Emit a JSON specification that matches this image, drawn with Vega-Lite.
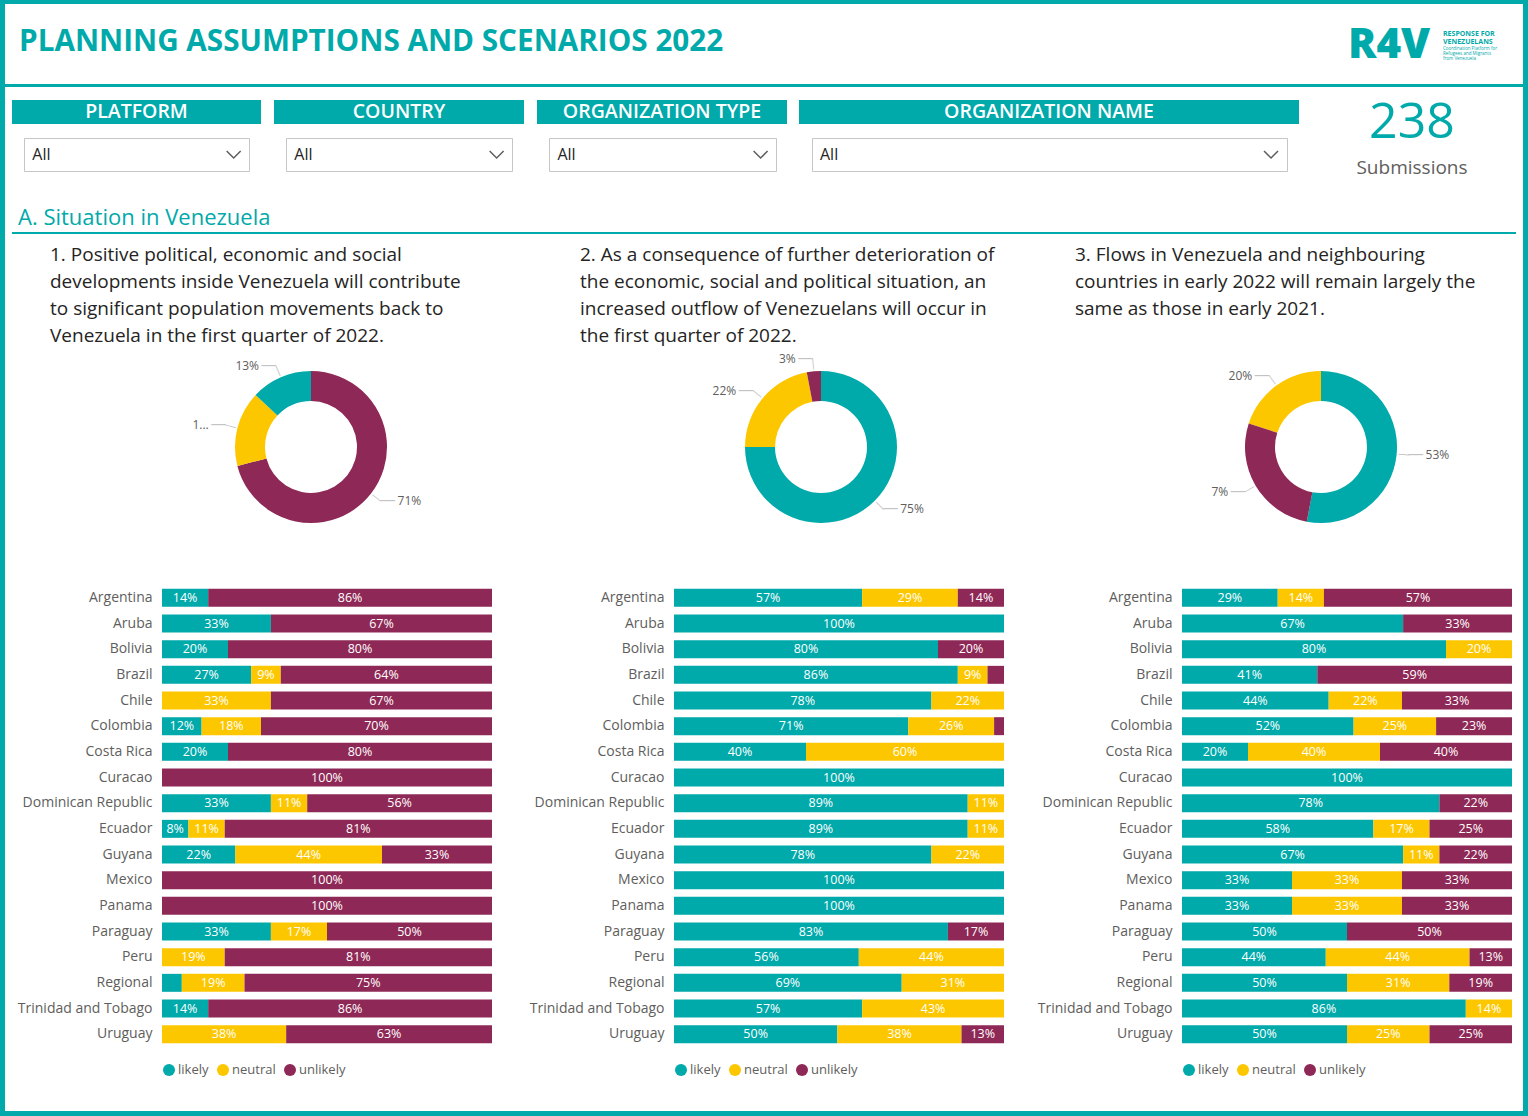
{
  "$schema": "https://vega.github.io/schema/vega-lite/v6.json",
  "padding": 0,
  "background": "white",
  "config": {
    "font": "Open Sans",
    "view": {"stroke": null},
    "concat": {"spacing": 0},
    "title": {"font": "Open Sans", "fontWeight": "normal", "anchor": "start"},
    "axis": {"labelFont": "Open Sans"},
    "legend": {"labelFont": "Open Sans"}
  },
  "datasets": {
    "slicers": [
      {"name": "PLATFORM"}, {"name": "COUNTRY"}, {"name": "ORGANIZATION TYPE"}, {"name": "ORGANIZATION NAME"}
    ],
    "dropdown": [
      {"pos": "left", "txt": "All"}, {"pos": "right", "txt": "chevron"}
    ],
    "donut": [
      {"q": 1, "cat": "unlikely", "value": 0.71, "label": "71%"},
      {"q": 1, "cat": "neutral", "value": 0.16, "label": "1..."},
      {"q": 1, "cat": "likely", "value": 0.13, "label": "13%"},
      {"q": 2, "cat": "likely", "value": 0.75, "label": "75%"},
      {"q": 2, "cat": "neutral", "value": 0.22, "label": "22%"},
      {"q": 2, "cat": "unlikely", "value": 0.03, "label": "3%"},
      {"q": 3, "cat": "likely", "value": 0.53, "label": "53%"},
      {"q": 3, "cat": "neutral", "value": 0.20, "label": "20%"},
      {"q": 3, "cat": "unlikely", "value": 0.27, "label": "7%"}
    ],
    "bars": [
      {"q": 1, "country": "Argentina", "cat": "likely", "value": 0.14},
      {"q": 1, "country": "Argentina", "cat": "unlikely", "value": 0.86},
      {"q": 1, "country": "Aruba", "cat": "likely", "value": 0.33},
      {"q": 1, "country": "Aruba", "cat": "unlikely", "value": 0.67},
      {"q": 1, "country": "Bolivia", "cat": "likely", "value": 0.20},
      {"q": 1, "country": "Bolivia", "cat": "unlikely", "value": 0.80},
      {"q": 1, "country": "Brazil", "cat": "likely", "value": 0.27},
      {"q": 1, "country": "Brazil", "cat": "neutral", "value": 0.09},
      {"q": 1, "country": "Brazil", "cat": "unlikely", "value": 0.64},
      {"q": 1, "country": "Chile", "cat": "neutral", "value": 0.33},
      {"q": 1, "country": "Chile", "cat": "unlikely", "value": 0.67},
      {"q": 1, "country": "Colombia", "cat": "likely", "value": 0.12},
      {"q": 1, "country": "Colombia", "cat": "neutral", "value": 0.18},
      {"q": 1, "country": "Colombia", "cat": "unlikely", "value": 0.70},
      {"q": 1, "country": "Costa Rica", "cat": "likely", "value": 0.20},
      {"q": 1, "country": "Costa Rica", "cat": "unlikely", "value": 0.80},
      {"q": 1, "country": "Curacao", "cat": "unlikely", "value": 1.00},
      {"q": 1, "country": "Dominican Republic", "cat": "likely", "value": 0.33},
      {"q": 1, "country": "Dominican Republic", "cat": "neutral", "value": 0.11},
      {"q": 1, "country": "Dominican Republic", "cat": "unlikely", "value": 0.56},
      {"q": 1, "country": "Ecuador", "cat": "likely", "value": 0.08},
      {"q": 1, "country": "Ecuador", "cat": "neutral", "value": 0.11},
      {"q": 1, "country": "Ecuador", "cat": "unlikely", "value": 0.81},
      {"q": 1, "country": "Guyana", "cat": "likely", "value": 0.22},
      {"q": 1, "country": "Guyana", "cat": "neutral", "value": 0.44},
      {"q": 1, "country": "Guyana", "cat": "unlikely", "value": 0.33},
      {"q": 1, "country": "Mexico", "cat": "unlikely", "value": 1.00},
      {"q": 1, "country": "Panama", "cat": "unlikely", "value": 1.00},
      {"q": 1, "country": "Paraguay", "cat": "likely", "value": 0.33},
      {"q": 1, "country": "Paraguay", "cat": "neutral", "value": 0.17},
      {"q": 1, "country": "Paraguay", "cat": "unlikely", "value": 0.50},
      {"q": 1, "country": "Peru", "cat": "neutral", "value": 0.19},
      {"q": 1, "country": "Peru", "cat": "unlikely", "value": 0.81},
      {"q": 1, "country": "Regional", "cat": "likely", "value": 0.06},
      {"q": 1, "country": "Regional", "cat": "neutral", "value": 0.19},
      {"q": 1, "country": "Regional", "cat": "unlikely", "value": 0.75},
      {"q": 1, "country": "Trinidad and Tobago", "cat": "likely", "value": 0.14},
      {"q": 1, "country": "Trinidad and Tobago", "cat": "unlikely", "value": 0.86},
      {"q": 1, "country": "Uruguay", "cat": "neutral", "value": 0.38},
      {"q": 1, "country": "Uruguay", "cat": "unlikely", "value": 0.63},
      {"q": 2, "country": "Argentina", "cat": "likely", "value": 0.57},
      {"q": 2, "country": "Argentina", "cat": "neutral", "value": 0.29},
      {"q": 2, "country": "Argentina", "cat": "unlikely", "value": 0.14},
      {"q": 2, "country": "Aruba", "cat": "likely", "value": 1.00},
      {"q": 2, "country": "Bolivia", "cat": "likely", "value": 0.80},
      {"q": 2, "country": "Bolivia", "cat": "unlikely", "value": 0.20},
      {"q": 2, "country": "Brazil", "cat": "likely", "value": 0.86},
      {"q": 2, "country": "Brazil", "cat": "neutral", "value": 0.09},
      {"q": 2, "country": "Brazil", "cat": "unlikely", "value": 0.05},
      {"q": 2, "country": "Chile", "cat": "likely", "value": 0.78},
      {"q": 2, "country": "Chile", "cat": "neutral", "value": 0.22},
      {"q": 2, "country": "Colombia", "cat": "likely", "value": 0.71},
      {"q": 2, "country": "Colombia", "cat": "neutral", "value": 0.26},
      {"q": 2, "country": "Colombia", "cat": "unlikely", "value": 0.03},
      {"q": 2, "country": "Costa Rica", "cat": "likely", "value": 0.40},
      {"q": 2, "country": "Costa Rica", "cat": "neutral", "value": 0.60},
      {"q": 2, "country": "Curacao", "cat": "likely", "value": 1.00},
      {"q": 2, "country": "Dominican Republic", "cat": "likely", "value": 0.89},
      {"q": 2, "country": "Dominican Republic", "cat": "neutral", "value": 0.11},
      {"q": 2, "country": "Ecuador", "cat": "likely", "value": 0.89},
      {"q": 2, "country": "Ecuador", "cat": "neutral", "value": 0.11},
      {"q": 2, "country": "Guyana", "cat": "likely", "value": 0.78},
      {"q": 2, "country": "Guyana", "cat": "neutral", "value": 0.22},
      {"q": 2, "country": "Mexico", "cat": "likely", "value": 1.00},
      {"q": 2, "country": "Panama", "cat": "likely", "value": 1.00},
      {"q": 2, "country": "Paraguay", "cat": "likely", "value": 0.83},
      {"q": 2, "country": "Paraguay", "cat": "unlikely", "value": 0.17},
      {"q": 2, "country": "Peru", "cat": "likely", "value": 0.56},
      {"q": 2, "country": "Peru", "cat": "neutral", "value": 0.44},
      {"q": 2, "country": "Regional", "cat": "likely", "value": 0.69},
      {"q": 2, "country": "Regional", "cat": "neutral", "value": 0.31},
      {"q": 2, "country": "Trinidad and Tobago", "cat": "likely", "value": 0.57},
      {"q": 2, "country": "Trinidad and Tobago", "cat": "neutral", "value": 0.43},
      {"q": 2, "country": "Uruguay", "cat": "likely", "value": 0.50},
      {"q": 2, "country": "Uruguay", "cat": "neutral", "value": 0.38},
      {"q": 2, "country": "Uruguay", "cat": "unlikely", "value": 0.13},
      {"q": 3, "country": "Argentina", "cat": "likely", "value": 0.29},
      {"q": 3, "country": "Argentina", "cat": "neutral", "value": 0.14},
      {"q": 3, "country": "Argentina", "cat": "unlikely", "value": 0.57},
      {"q": 3, "country": "Aruba", "cat": "likely", "value": 0.67},
      {"q": 3, "country": "Aruba", "cat": "unlikely", "value": 0.33},
      {"q": 3, "country": "Bolivia", "cat": "likely", "value": 0.80},
      {"q": 3, "country": "Bolivia", "cat": "neutral", "value": 0.20},
      {"q": 3, "country": "Brazil", "cat": "likely", "value": 0.41},
      {"q": 3, "country": "Brazil", "cat": "unlikely", "value": 0.59},
      {"q": 3, "country": "Chile", "cat": "likely", "value": 0.44},
      {"q": 3, "country": "Chile", "cat": "neutral", "value": 0.22},
      {"q": 3, "country": "Chile", "cat": "unlikely", "value": 0.33},
      {"q": 3, "country": "Colombia", "cat": "likely", "value": 0.52},
      {"q": 3, "country": "Colombia", "cat": "neutral", "value": 0.25},
      {"q": 3, "country": "Colombia", "cat": "unlikely", "value": 0.23},
      {"q": 3, "country": "Costa Rica", "cat": "likely", "value": 0.20},
      {"q": 3, "country": "Costa Rica", "cat": "neutral", "value": 0.40},
      {"q": 3, "country": "Costa Rica", "cat": "unlikely", "value": 0.40},
      {"q": 3, "country": "Curacao", "cat": "likely", "value": 1.00},
      {"q": 3, "country": "Dominican Republic", "cat": "likely", "value": 0.78},
      {"q": 3, "country": "Dominican Republic", "cat": "unlikely", "value": 0.22},
      {"q": 3, "country": "Ecuador", "cat": "likely", "value": 0.58},
      {"q": 3, "country": "Ecuador", "cat": "neutral", "value": 0.17},
      {"q": 3, "country": "Ecuador", "cat": "unlikely", "value": 0.25},
      {"q": 3, "country": "Guyana", "cat": "likely", "value": 0.67},
      {"q": 3, "country": "Guyana", "cat": "neutral", "value": 0.11},
      {"q": 3, "country": "Guyana", "cat": "unlikely", "value": 0.22},
      {"q": 3, "country": "Mexico", "cat": "likely", "value": 0.33},
      {"q": 3, "country": "Mexico", "cat": "neutral", "value": 0.33},
      {"q": 3, "country": "Mexico", "cat": "unlikely", "value": 0.33},
      {"q": 3, "country": "Panama", "cat": "likely", "value": 0.33},
      {"q": 3, "country": "Panama", "cat": "neutral", "value": 0.33},
      {"q": 3, "country": "Panama", "cat": "unlikely", "value": 0.33},
      {"q": 3, "country": "Paraguay", "cat": "likely", "value": 0.50},
      {"q": 3, "country": "Paraguay", "cat": "unlikely", "value": 0.50},
      {"q": 3, "country": "Peru", "cat": "likely", "value": 0.44},
      {"q": 3, "country": "Peru", "cat": "neutral", "value": 0.44},
      {"q": 3, "country": "Peru", "cat": "unlikely", "value": 0.13},
      {"q": 3, "country": "Regional", "cat": "likely", "value": 0.50},
      {"q": 3, "country": "Regional", "cat": "neutral", "value": 0.31},
      {"q": 3, "country": "Regional", "cat": "unlikely", "value": 0.19},
      {"q": 3, "country": "Trinidad and Tobago", "cat": "likely", "value": 0.86},
      {"q": 3, "country": "Trinidad and Tobago", "cat": "neutral", "value": 0.14},
      {"q": 3, "country": "Uruguay", "cat": "likely", "value": 0.50},
      {"q": 3, "country": "Uruguay", "cat": "neutral", "value": 0.25},
      {"q": 3, "country": "Uruguay", "cat": "unlikely", "value": 0.25}
    ]
  },
  "spacing": 0,
  "hconcat": [
    {"width": 5, "height": 1116, "view": {"fill": "#00A9AA"}, "data": {"values": [{}]}, "mark": {"type": "text", "text": "", "fontSize": 0}},
    {
      "vconcat": [
        {"width": 1518, "height": 4, "view": {"fill": "#00A9AA"}, "data": {"values": [{}]}, "mark": {"type": "text", "text": "", "fontSize": 0}},
        {"width": 1, "height": 20, "data": {"values": [{}]}, "mark": {"type": "text", "text": "", "fontSize": 0}},
        {
          "hconcat": [
            {"width": 1330, "height": 3, "view": {"fill": "#00A9AA"},
             "title": {"text": "PLANNING ASSUMPTIONS AND SCENARIOS 2022", "fontSize": 29.7, "fontWeight": "bold", "color": "#00A9AA", "dx": 14, "offset": 26},
             "data": {"values": [{}]}, "mark": {"type": "text", "text": "", "fontSize": 0}},
            {"width": 100, "height": 3, "view": {"fill": "#00A9AA"},
             "title": {"text": "R4V", "fontSize": 42, "fontWeight": 800, "color": "#00A9AA", "dx": 13, "offset": 17},
             "data": {"values": [{}]}, "mark": {"type": "text", "text": "", "fontSize": 0}},
            {"width": 88, "height": 3, "view": {"fill": "#00A9AA"},
             "title": {"text": ["RESPONSE FOR", "VENEZUELANS"], "subtitle": ["Coordination Platform for", "Refugees and Migrants", "from Venezuela"], "fontSize": 7, "lineHeight": 8, "fontWeight": "bold", "color": "#00A9AA", "subtitleFontSize": 4.5, "subtitleLineHeight": 5, "subtitleColor": "#00A9AA", "subtitlePadding": 1, "dx": 8, "offset": 24},
             "data": {"values": [{}]}, "mark": {"type": "text", "text": "", "fontSize": 0}}
          ]
        },
        {"width": 1, "height": 11, "data": {"values": [{}]}, "mark": {"type": "text", "text": "", "fontSize": 0}},
        {
          "hconcat": [
            {"width": 7, "height": 1, "data": {"values": [{}]}, "mark": {"type": "text", "text": "", "fontSize": 0}},
            {"spacing": 13, "vconcat": [
              {"width": 249, "height": 24, "view": {"fill": "#00A9AA"}, "data": {"name": "slicers"}, "transform": [{"filter": "datum.name === 'PLATFORM'"}],
               "mark": {"type": "text", "color": "white", "fontSize": 19.5, "fontWeight": 600},
               "encoding": {"x": {"field": "name", "type": "nominal", "axis": null}, "y": {"field": "name", "type": "nominal", "axis": null}, "text": {"field": "name"}}},
              {"hconcat": [
                {"width": 11, "height": 1, "data": {"values": [{}]}, "mark": {"type": "text", "text": "", "fontSize": 0}},
                {"width": 225, "height": 33, "view": {"fill": "white", "stroke": "#C8C6C4"}, "data": {"name": "dropdown"},
                 "encoding": {"x": {"field": "pos", "type": "nominal", "axis": null, "scale": {"type": "point", "padding": 0.04}}},
                 "layer": [
                   {"transform": [{"filter": "datum.pos === 'left'"}], "mark": {"type": "text", "align": "left", "fontSize": 16, "color": "#252423"}, "encoding": {"text": {"field": "txt"}}},
                   {"transform": [{"filter": "datum.pos === 'right'"}], "mark": {"type": "point", "shape": "M-1,-0.5L0,0.5L1,-0.5", "filled": false, "size": 196, "stroke": "#605E5C", "strokeWidth": 1.5, "opacity": 1, "xOffset": -7}}
                 ]}
              ]}
            ]},
            {"width": 13, "height": 1, "data": {"values": [{}]}, "mark": {"type": "text", "text": "", "fontSize": 0}},
            {"spacing": 13, "vconcat": [
              {"width": 250, "height": 24, "view": {"fill": "#00A9AA"}, "data": {"name": "slicers"}, "transform": [{"filter": "datum.name === 'COUNTRY'"}],
               "mark": {"type": "text", "color": "white", "fontSize": 19.5, "fontWeight": 600},
               "encoding": {"x": {"field": "name", "type": "nominal", "axis": null}, "y": {"field": "name", "type": "nominal", "axis": null}, "text": {"field": "name"}}},
              {"hconcat": [
                {"width": 11, "height": 1, "data": {"values": [{}]}, "mark": {"type": "text", "text": "", "fontSize": 0}},
                {"width": 226, "height": 33, "view": {"fill": "white", "stroke": "#C8C6C4"}, "data": {"name": "dropdown"},
                 "encoding": {"x": {"field": "pos", "type": "nominal", "axis": null, "scale": {"type": "point", "padding": 0.04}}},
                 "layer": [
                   {"transform": [{"filter": "datum.pos === 'left'"}], "mark": {"type": "text", "align": "left", "fontSize": 16, "color": "#252423"}, "encoding": {"text": {"field": "txt"}}},
                   {"transform": [{"filter": "datum.pos === 'right'"}], "mark": {"type": "point", "shape": "M-1,-0.5L0,0.5L1,-0.5", "filled": false, "size": 196, "stroke": "#605E5C", "strokeWidth": 1.5, "opacity": 1, "xOffset": -7}}
                 ]}
              ]}
            ]},
            {"width": 13, "height": 1, "data": {"values": [{}]}, "mark": {"type": "text", "text": "", "fontSize": 0}},
            {"spacing": 13, "vconcat": [
              {"width": 250, "height": 24, "view": {"fill": "#00A9AA"}, "data": {"name": "slicers"}, "transform": [{"filter": "datum.name === 'ORGANIZATION TYPE'"}],
               "mark": {"type": "text", "color": "white", "fontSize": 19.5, "fontWeight": 600},
               "encoding": {"x": {"field": "name", "type": "nominal", "axis": null}, "y": {"field": "name", "type": "nominal", "axis": null}, "text": {"field": "name"}}},
              {"hconcat": [
                {"width": 11, "height": 1, "data": {"values": [{}]}, "mark": {"type": "text", "text": "", "fontSize": 0}},
                {"width": 227, "height": 33, "view": {"fill": "white", "stroke": "#C8C6C4"}, "data": {"name": "dropdown"},
                 "encoding": {"x": {"field": "pos", "type": "nominal", "axis": null, "scale": {"type": "point", "padding": 0.04}}},
                 "layer": [
                   {"transform": [{"filter": "datum.pos === 'left'"}], "mark": {"type": "text", "align": "left", "fontSize": 16, "color": "#252423"}, "encoding": {"text": {"field": "txt"}}},
                   {"transform": [{"filter": "datum.pos === 'right'"}], "mark": {"type": "point", "shape": "M-1,-0.5L0,0.5L1,-0.5", "filled": false, "size": 196, "stroke": "#605E5C", "strokeWidth": 1.5, "opacity": 1, "xOffset": -7}}
                 ]}
              ]}
            ]},
            {"width": 12, "height": 1, "data": {"values": [{}]}, "mark": {"type": "text", "text": "", "fontSize": 0}},
            {"spacing": 13, "vconcat": [
              {"width": 500, "height": 24, "view": {"fill": "#00A9AA"}, "data": {"name": "slicers"}, "transform": [{"filter": "datum.name === 'ORGANIZATION NAME'"}],
               "mark": {"type": "text", "color": "white", "fontSize": 19.5, "fontWeight": 600},
               "encoding": {"x": {"field": "name", "type": "nominal", "axis": null}, "y": {"field": "name", "type": "nominal", "axis": null}, "text": {"field": "name"}}},
              {"hconcat": [
                {"width": 12, "height": 1, "data": {"values": [{}]}, "mark": {"type": "text", "text": "", "fontSize": 0}},
                {"width": 475, "height": 33, "view": {"fill": "white", "stroke": "#C8C6C4"}, "data": {"name": "dropdown"},
                 "encoding": {"x": {"field": "pos", "type": "nominal", "axis": null, "scale": {"type": "point", "padding": 0.0174}}},
                 "layer": [
                   {"transform": [{"filter": "datum.pos === 'left'"}], "mark": {"type": "text", "align": "left", "fontSize": 16, "color": "#252423"}, "encoding": {"text": {"field": "txt"}}},
                   {"transform": [{"filter": "datum.pos === 'right'"}], "mark": {"type": "point", "shape": "M-1,-0.5L0,0.5L1,-0.5", "filled": false, "size": 196, "stroke": "#605E5C", "strokeWidth": 1.5, "opacity": 1, "xOffset": -8}}
                 ]}
              ]}
            ]},
            {"width": 13, "height": 1, "data": {"values": [{}]}, "mark": {"type": "text", "text": "", "fontSize": 0}},
            {"width": 200, "height": 1,
             "title": {"text": "238", "subtitle": "Submissions", "orient": "bottom", "anchor": "middle", "fontSize": 50, "color": "#00A9AA", "subtitleFontSize": 19, "subtitleColor": "#605E5C", "subtitlePadding": 11, "offset": -3},
             "data": {"values": [{}]}, "mark": {"type": "text", "text": "", "fontSize": 0}}
          ]
        },
        {"width": 1, "height": 29, "data": {"values": [{}]}, "mark": {"type": "text", "text": "", "fontSize": 0}},
        {
          "hconcat": [
            {"width": 7, "height": 1, "data": {"values": [{}]}, "mark": {"type": "text", "text": "", "fontSize": 0}},
            {"width": 1504, "height": 2, "view": {"fill": "#00A9AA"},
             "title": {"text": "A. Situation in Venezuela", "fontSize": 22, "color": "#00A9AA", "dx": 6, "offset": 2},
             "data": {"values": [{}]}, "mark": {"type": "text", "text": "", "fontSize": 0}}
          ]
        },
        {"width": 1, "height": 12, "data": {"values": [{}]}, "mark": {"type": "text", "text": "", "fontSize": 0}},
        {
          "hconcat": [
            {"width": 45, "height": 1, "data": {"values": [{}]}, "mark": {"type": "text", "text": "", "fontSize": 0}},
            {"width": 522, "height": 260,
             "title": {"text": ["1. Positive political, economic and social", "developments inside Venezuela will contribute", "to significant population movements back to", "Venezuela in the first quarter of 2022."], "fontSize": 19, "lineHeight": 27, "color": "#252423", "offset": -29},
             "data": {"name": "donut"},
             "transform": [{"filter": "datum.q === 1"}, {"stack": "value", "groupby": ["q"], "sort": [{"field": "value", "order": "descending"}], "offset": "normalize", "as": ["v0", "v1"]}],
             "layer": [
               {"mark": {"type": "arc", "innerRadius": 46, "outerRadius": 76},
                "encoding": {"theta": {"field": "v0", "type": "quantitative", "stack": null, "scale": {"domain": [0, 1]}}, "theta2": {"field": "v1"},
                  "color": {"field": "cat", "type": "nominal", "legend": null, "scale": {"domain": ["likely", "neutral", "unlikely"], "range": ["#00A9AA", "#FDC700", "#8E2856"]}}}},
               {"transform": [{"fold": ["v0", "v1"], "as": ["end", "pos"]}],
                "mark": {"type": "text", "text": "│", "font": "DejaVu Sans", "fontSize": 9, "radius": 83, "color": "#BDBDBD"},
                "encoding": {"theta": {"field": "pos", "aggregate": "mean", "type": "quantitative", "stack": null}, "angle": {"field": "pos", "aggregate": "mean", "type": "quantitative", "scale": {"domain": [0, 1], "range": [0, 360]}}, "detail": {"field": "cat"}}},
               {"transform": [{"filter": "datum.v0 + datum.v1 < 1"}, {"fold": ["v0", "v1"], "as": ["end", "pos"]}],
                "mark": {"type": "text", "text": "──", "font": "DejaVu Sans", "fontSize": 12, "radius": 88, "align": "left", "color": "#BDBDBD"},
                "encoding": {"theta": {"field": "pos", "aggregate": "mean", "type": "quantitative", "stack": null}, "detail": {"field": "cat"}}},
               {"transform": [{"filter": "datum.v0 + datum.v1 >= 1"}, {"fold": ["v0", "v1"], "as": ["end", "pos"]}],
                "mark": {"type": "text", "text": "──", "font": "DejaVu Sans", "fontSize": 12, "radius": 88, "align": "right", "color": "#BDBDBD"},
                "encoding": {"theta": {"field": "pos", "aggregate": "mean", "type": "quantitative", "stack": null}, "detail": {"field": "cat"}}},
               {"transform": [{"filter": "datum.v0 + datum.v1 < 1"}, {"fold": ["v0", "v1"], "as": ["end", "pos"]}],
                "mark": {"type": "text", "radius": 88, "align": "left", "dx": 17, "fontSize": 12, "color": "#605E5C"},
                "encoding": {"theta": {"field": "pos", "aggregate": "mean", "type": "quantitative", "stack": null}, "detail": {"field": "cat"}, "text": {"field": "label"}}},
               {"transform": [{"filter": "datum.v0 + datum.v1 >= 1"}, {"fold": ["v0", "v1"], "as": ["end", "pos"]}],
                "mark": {"type": "text", "radius": 88, "align": "right", "dx": -17, "fontSize": 12, "color": "#605E5C"},
                "encoding": {"theta": {"field": "pos", "aggregate": "mean", "type": "quantitative", "stack": null}, "detail": {"field": "cat"}, "text": {"field": "label"}}}
             ]},
            {"width": 8, "height": 1, "data": {"values": [{}]}, "mark": {"type": "text", "text": "", "fontSize": 0}},
            {"width": 482, "height": 260,
             "title": {"text": ["2. As a consequence of further deterioration of", "the economic, social and political situation, an", "increased outflow of Venezuelans will occur in", "the first quarter of 2022."], "fontSize": 19, "lineHeight": 27, "color": "#252423", "offset": -29},
             "data": {"name": "donut"},
             "transform": [{"filter": "datum.q === 2"}, {"stack": "value", "groupby": ["q"], "sort": [{"field": "value", "order": "descending"}], "offset": "normalize", "as": ["v0", "v1"]}],
             "layer": [
               {"mark": {"type": "arc", "innerRadius": 46, "outerRadius": 76},
                "encoding": {"theta": {"field": "v0", "type": "quantitative", "stack": null, "scale": {"domain": [0, 1]}}, "theta2": {"field": "v1"},
                  "color": {"field": "cat", "type": "nominal", "legend": null, "scale": {"domain": ["likely", "neutral", "unlikely"], "range": ["#00A9AA", "#FDC700", "#8E2856"]}}}},
               {"transform": [{"fold": ["v0", "v1"], "as": ["end", "pos"]}],
                "mark": {"type": "text", "text": "│", "font": "DejaVu Sans", "fontSize": 9, "radius": 83, "color": "#BDBDBD"},
                "encoding": {"theta": {"field": "pos", "aggregate": "mean", "type": "quantitative", "stack": null}, "angle": {"field": "pos", "aggregate": "mean", "type": "quantitative", "scale": {"domain": [0, 1], "range": [0, 360]}}, "detail": {"field": "cat"}}},
               {"transform": [{"filter": "datum.v0 + datum.v1 < 1"}, {"fold": ["v0", "v1"], "as": ["end", "pos"]}],
                "mark": {"type": "text", "text": "──", "font": "DejaVu Sans", "fontSize": 12, "radius": 88, "align": "left", "color": "#BDBDBD"},
                "encoding": {"theta": {"field": "pos", "aggregate": "mean", "type": "quantitative", "stack": null}, "detail": {"field": "cat"}}},
               {"transform": [{"filter": "datum.v0 + datum.v1 >= 1"}, {"fold": ["v0", "v1"], "as": ["end", "pos"]}],
                "mark": {"type": "text", "text": "──", "font": "DejaVu Sans", "fontSize": 12, "radius": 88, "align": "right", "color": "#BDBDBD"},
                "encoding": {"theta": {"field": "pos", "aggregate": "mean", "type": "quantitative", "stack": null}, "detail": {"field": "cat"}}},
               {"transform": [{"filter": "datum.v0 + datum.v1 < 1"}, {"fold": ["v0", "v1"], "as": ["end", "pos"]}],
                "mark": {"type": "text", "radius": 88, "align": "left", "dx": 17, "fontSize": 12, "color": "#605E5C"},
                "encoding": {"theta": {"field": "pos", "aggregate": "mean", "type": "quantitative", "stack": null}, "detail": {"field": "cat"}, "text": {"field": "label"}}},
               {"transform": [{"filter": "datum.v0 + datum.v1 >= 1"}, {"fold": ["v0", "v1"], "as": ["end", "pos"]}],
                "mark": {"type": "text", "radius": 88, "align": "right", "dx": -17, "fontSize": 12, "color": "#605E5C"},
                "encoding": {"theta": {"field": "pos", "aggregate": "mean", "type": "quantitative", "stack": null}, "detail": {"field": "cat"}, "text": {"field": "label"}}}
             ]},
            {"width": 13, "height": 1, "data": {"values": [{}]}, "mark": {"type": "text", "text": "", "fontSize": 0}},
            {"width": 382, "height": 260,
             "title": {"text": ["3. Flows in Venezuela and neighbouring", "countries in early 2022 will remain largely the", "same as those in early 2021."], "fontSize": 19, "lineHeight": 27, "color": "#252423", "offset": -2, "dx": -55},
             "data": {"name": "donut"},
             "transform": [{"filter": "datum.q === 3"}, {"stack": "value", "groupby": ["q"], "sort": [{"field": "value", "order": "descending"}], "offset": "normalize", "as": ["v0", "v1"]}],
             "layer": [
               {"mark": {"type": "arc", "innerRadius": 46, "outerRadius": 76},
                "encoding": {"theta": {"field": "v0", "type": "quantitative", "stack": null, "scale": {"domain": [0, 1]}}, "theta2": {"field": "v1"},
                  "color": {"field": "cat", "type": "nominal", "legend": null, "scale": {"domain": ["likely", "neutral", "unlikely"], "range": ["#00A9AA", "#FDC700", "#8E2856"]}}}},
               {"transform": [{"fold": ["v0", "v1"], "as": ["end", "pos"]}],
                "mark": {"type": "text", "text": "│", "font": "DejaVu Sans", "fontSize": 9, "radius": 83, "color": "#BDBDBD"},
                "encoding": {"theta": {"field": "pos", "aggregate": "mean", "type": "quantitative", "stack": null}, "angle": {"field": "pos", "aggregate": "mean", "type": "quantitative", "scale": {"domain": [0, 1], "range": [0, 360]}}, "detail": {"field": "cat"}}},
               {"transform": [{"filter": "datum.v0 + datum.v1 < 1"}, {"fold": ["v0", "v1"], "as": ["end", "pos"]}],
                "mark": {"type": "text", "text": "──", "font": "DejaVu Sans", "fontSize": 12, "radius": 88, "align": "left", "color": "#BDBDBD"},
                "encoding": {"theta": {"field": "pos", "aggregate": "mean", "type": "quantitative", "stack": null}, "detail": {"field": "cat"}}},
               {"transform": [{"filter": "datum.v0 + datum.v1 >= 1"}, {"fold": ["v0", "v1"], "as": ["end", "pos"]}],
                "mark": {"type": "text", "text": "──", "font": "DejaVu Sans", "fontSize": 12, "radius": 88, "align": "right", "color": "#BDBDBD"},
                "encoding": {"theta": {"field": "pos", "aggregate": "mean", "type": "quantitative", "stack": null}, "detail": {"field": "cat"}}},
               {"transform": [{"filter": "datum.v0 + datum.v1 < 1"}, {"fold": ["v0", "v1"], "as": ["end", "pos"]}],
                "mark": {"type": "text", "radius": 88, "align": "left", "dx": 17, "fontSize": 12, "color": "#605E5C"},
                "encoding": {"theta": {"field": "pos", "aggregate": "mean", "type": "quantitative", "stack": null}, "detail": {"field": "cat"}, "text": {"field": "label"}}},
               {"transform": [{"filter": "datum.v0 + datum.v1 >= 1"}, {"fold": ["v0", "v1"], "as": ["end", "pos"]}],
                "mark": {"type": "text", "radius": 88, "align": "right", "dx": -17, "fontSize": 12, "color": "#605E5C"},
                "encoding": {"theta": {"field": "pos", "aggregate": "mean", "type": "quantitative", "stack": null}, "detail": {"field": "cat"}, "text": {"field": "label"}}}
             ]}
          ]
        },
        {"width": 1, "height": 8, "data": {"values": [{}]}, "mark": {"type": "text", "text": "", "fontSize": 0}},
        {
          "resolve": {"scale": {"color": "independent"}, "legend": {"color": "independent"}},
          "hconcat": [
            {"width": 12, "height": 1, "data": {"values": [{}]}, "mark": {"type": "text", "text": "", "fontSize": 0}},
            {"width": 330, "height": 462, "data": {"name": "bars"},
             "transform": [{"filter": "datum.q === 1"}, {"stack": "value", "groupby": ["country"], "sort": [{"field": "cat", "order": "ascending"}], "offset": "normalize", "as": ["v0", "v1"]}],
             "encoding": {"y": {"field": "country", "type": "nominal", "title": null, "scale": {"paddingInner": 0.3, "paddingOuter": 0.15}, "axis": {"ticks": false, "domain": false, "labelFontSize": 14, "labelColor": "#605E5C", "labelPadding": 10, "labelLimit": 220}}},
             "layer": [
               {"mark": {"type": "bar"}, "encoding": {
                 "x": {"field": "v0", "type": "quantitative", "axis": null, "scale": {"domain": [0, 1], "nice": false}},
                 "x2": {"field": "v1"},
                 "color": {"field": "cat", "type": "nominal", "scale": {"domain": ["likely", "neutral", "unlikely"], "range": ["#00A9AA", "#FDC700", "#8E2856"]},
                   "legend": {"orient": "bottom", "direction": "horizontal", "title": null, "symbolType": "circle", "symbolSize": 144, "labelFontSize": 13, "labelColor": "#605E5C", "columnPadding": 7, "labelOffset": 2, "offset": 16}}}},
               {"transform": [{"filter": "datum.value >= 0.075"}, {"fold": ["v0", "v1"], "as": ["end", "pos"]}],
                "mark": {"type": "text", "color": "white", "fontSize": 12.5},
                "encoding": {
                  "x": {"field": "pos", "aggregate": "mean", "type": "quantitative"},
                  "detail": {"field": "cat"},
                  "text": {"field": "value", "type": "quantitative", "format": ".0%"}}}
             ]},
            {"width": 37, "height": 1, "data": {"values": [{}]}, "mark": {"type": "text", "text": "", "fontSize": 0}},
            {"width": 330, "height": 462, "data": {"name": "bars"},
             "transform": [{"filter": "datum.q === 2"}, {"stack": "value", "groupby": ["country"], "sort": [{"field": "cat", "order": "ascending"}], "offset": "normalize", "as": ["v0", "v1"]}],
             "encoding": {"y": {"field": "country", "type": "nominal", "title": null, "scale": {"paddingInner": 0.3, "paddingOuter": 0.15}, "axis": {"ticks": false, "domain": false, "labelFontSize": 14, "labelColor": "#605E5C", "labelPadding": 10, "labelLimit": 220}}},
             "layer": [
               {"mark": {"type": "bar"}, "encoding": {
                 "x": {"field": "v0", "type": "quantitative", "axis": null, "scale": {"domain": [0, 1], "nice": false}},
                 "x2": {"field": "v1"},
                 "color": {"field": "cat", "type": "nominal", "scale": {"domain": ["likely", "neutral", "unlikely"], "range": ["#00A9AA", "#FDC700", "#8E2856"]},
                   "legend": {"orient": "bottom", "direction": "horizontal", "title": null, "symbolType": "circle", "symbolSize": 144, "labelFontSize": 13, "labelColor": "#605E5C", "columnPadding": 7, "labelOffset": 2, "offset": 16}}}},
               {"transform": [{"filter": "datum.value >= 0.075"}, {"fold": ["v0", "v1"], "as": ["end", "pos"]}],
                "mark": {"type": "text", "color": "white", "fontSize": 12.5},
                "encoding": {
                  "x": {"field": "pos", "aggregate": "mean", "type": "quantitative"},
                  "detail": {"field": "cat"},
                  "text": {"field": "value", "type": "quantitative", "format": ".0%"}}}
             ]},
            {"width": 33, "height": 1, "data": {"values": [{}]}, "mark": {"type": "text", "text": "", "fontSize": 0}},
            {"width": 330, "height": 462, "data": {"name": "bars"},
             "transform": [{"filter": "datum.q === 3"}, {"stack": "value", "groupby": ["country"], "sort": [{"field": "cat", "order": "ascending"}], "offset": "normalize", "as": ["v0", "v1"]}],
             "encoding": {"y": {"field": "country", "type": "nominal", "title": null, "scale": {"paddingInner": 0.3, "paddingOuter": 0.15}, "axis": {"ticks": false, "domain": false, "labelFontSize": 14, "labelColor": "#605E5C", "labelPadding": 10, "labelLimit": 220}}},
             "layer": [
               {"mark": {"type": "bar"}, "encoding": {
                 "x": {"field": "v0", "type": "quantitative", "axis": null, "scale": {"domain": [0, 1], "nice": false}},
                 "x2": {"field": "v1"},
                 "color": {"field": "cat", "type": "nominal", "scale": {"domain": ["likely", "neutral", "unlikely"], "range": ["#00A9AA", "#FDC700", "#8E2856"]},
                   "legend": {"orient": "bottom", "direction": "horizontal", "title": null, "symbolType": "circle", "symbolSize": 144, "labelFontSize": 13, "labelColor": "#605E5C", "columnPadding": 7, "labelOffset": 2, "offset": 16}}}},
               {"transform": [{"filter": "datum.value >= 0.075"}, {"fold": ["v0", "v1"], "as": ["end", "pos"]}],
                "mark": {"type": "text", "color": "white", "fontSize": 12.5},
                "encoding": {
                  "x": {"field": "pos", "aggregate": "mean", "type": "quantitative"},
                  "detail": {"field": "cat"},
                  "text": {"field": "value", "type": "quantitative", "format": ".0%"}}}
             ]}
          ]
        },
        {"width": 1, "height": 34, "data": {"values": [{}]}, "mark": {"type": "text", "text": "", "fontSize": 0}},
        {"width": 1518, "height": 6, "view": {"fill": "#00A9AA"}, "data": {"values": [{}]}, "mark": {"type": "text", "text": "", "fontSize": 0}}
      ]
    },
    {"width": 5, "height": 1116, "view": {"fill": "#00A9AA"}, "data": {"values": [{}]}, "mark": {"type": "text", "text": "", "fontSize": 0}}
  ]
}
